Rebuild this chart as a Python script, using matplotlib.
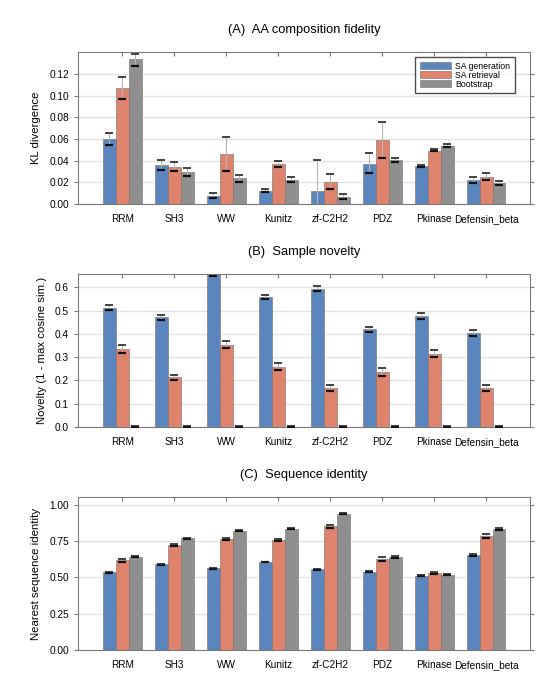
import matplotlib
matplotlib.use("Agg")
import matplotlib.pyplot as plt
import numpy as np

plt.rcParams['font.family'] = ['Liberation Sans', 'DejaVu Sans']

categories = ["RRM", "SH3", "WW", "Kunitz", "zf-C2H2", "PDZ", "Pkinase", "Defensin_beta"]
series = ["SA generation", "SA retrieval", "Bootstrap"]
colors = ["#5b86bd", "#e0836d", "#8f8f8f"]

# (A) KL divergence: means, lower and upper error bounds
kl_gen = [0.0597, 0.0356, 0.0076, 0.0119, 0.0122, 0.0371, 0.0350, 0.0222]
kl_gen_lo = [0.0545, 0.0314, 0.0058, 0.0107, -0.0160, 0.0283, 0.0338, 0.0192]
kl_gen_hi = [0.0654, 0.0405, 0.0103, 0.0143, 0.0405, 0.0469, 0.0362, 0.0253]
kl_ret = [0.1070, 0.0344, 0.0463, 0.0368, 0.0207, 0.0588, 0.0493, 0.0253]
kl_ret_lo = [0.0968, 0.0307, 0.0307, 0.0338, 0.0143, 0.0423, 0.0487, 0.0219]
kl_ret_hi = [0.1175, 0.0384, 0.0615, 0.0399, 0.0274, 0.0758, 0.0505, 0.0283]
kl_boot = [0.1336, 0.0295, 0.0237, 0.0225, 0.0067, 0.0405, 0.0539, 0.0195]
kl_boot_lo = [0.1279, 0.0262, 0.0207, 0.0204, 0.0049, 0.0384, 0.0530, 0.0174]
kl_boot_hi = [0.1388, 0.0329, 0.0271, 0.0247, 0.0091, 0.0429, 0.0551, 0.0216]

# (B) Sample novelty
nov_gen = [0.512, 0.471, 0.660, 0.557, 0.594, 0.419, 0.478, 0.402]
nov_gen_lo = [0.501, 0.461, 0.648, 0.548, 0.584, 0.409, 0.466, 0.389]
nov_gen_hi = [0.524, 0.482, 0.672, 0.565, 0.605, 0.428, 0.489, 0.415]
nov_ret = [0.334, 0.214, 0.354, 0.258, 0.168, 0.237, 0.314, 0.166]
nov_ret_lo = [0.316, 0.202, 0.339, 0.244, 0.155, 0.221, 0.301, 0.154]
nov_ret_hi = [0.354, 0.225, 0.370, 0.273, 0.181, 0.253, 0.330, 0.181]
nov_boot = [0.002, 0.002, 0.002, 0.002, 0.002, 0.002, 0.002, 0.002]
nov_boot_lo = [0.001, 0.001, 0.001, 0.001, 0.001, 0.001, 0.001, 0.001]
nov_boot_hi = [0.003, 0.003, 0.003, 0.003, 0.003, 0.003, 0.003, 0.003]

# (C) Nearest sequence identity
id_gen = [0.535, 0.590, 0.563, 0.606, 0.556, 0.540, 0.513, 0.654]
id_gen_lo = [0.531, 0.586, 0.559, 0.603, 0.551, 0.536, 0.510, 0.650]
id_gen_hi = [0.539, 0.594, 0.567, 0.609, 0.561, 0.544, 0.516, 0.658]
id_ret = [0.618, 0.723, 0.764, 0.757, 0.851, 0.625, 0.529, 0.785]
id_ret_lo = [0.609, 0.714, 0.756, 0.749, 0.842, 0.611, 0.524, 0.773]
id_ret_hi = [0.627, 0.732, 0.772, 0.765, 0.860, 0.639, 0.534, 0.797]
id_boot = [0.643, 0.769, 0.822, 0.834, 0.938, 0.638, 0.519, 0.833]
id_boot_lo = [0.639, 0.765, 0.818, 0.830, 0.935, 0.631, 0.516, 0.825]
id_boot_hi = [0.647, 0.773, 0.826, 0.838, 0.941, 0.645, 0.522, 0.841]

panels = [
    dict(title="(A)  AA composition fidelity", ylabel="KL divergence",
         data=[(kl_gen, kl_gen_lo, kl_gen_hi), (kl_ret, kl_ret_lo, kl_ret_hi), (kl_boot, kl_boot_lo, kl_boot_hi)],
         ylim=(0, 0.1405), yticks=[0.00, 0.02, 0.04, 0.06, 0.08, 0.10, 0.12], fmt="{:.2f}", legend=True),
    dict(title="(B)  Sample novelty", ylabel="Novelty (1 - max cosine sim.)",
         data=[(nov_gen, nov_gen_lo, nov_gen_hi), (nov_ret, nov_ret_lo, nov_ret_hi), (nov_boot, nov_boot_lo, nov_boot_hi)],
         ylim=(0, 0.657), yticks=[0.0, 0.1, 0.2, 0.3, 0.4, 0.5, 0.6], fmt="{:.1f}", legend=False),
    dict(title="(C)  Sequence identity", ylabel="Nearest sequence identity",
         data=[(id_gen, id_gen_lo, id_gen_hi), (id_ret, id_ret_lo, id_ret_hi), (id_boot, id_boot_lo, id_boot_hi)],
         ylim=(0, 1.053), yticks=[0.00, 0.25, 0.50, 0.75, 1.00], fmt="{:.2f}", legend=False),
]

fig = plt.figure(figsize=(5.54, 6.80), dpi=100)
positions = [(0.141, 0.700, 0.816, 0.2235), (0.141, 0.372, 0.816, 0.225), (0.141, 0.044, 0.816, 0.225)]

x = np.arange(len(categories))
width = 0.25
spine_color = "#7a7a7a"

for p, pos in zip(panels, positions):
    ax = fig.add_axes(pos)
    for i, ((vals, lo, hi), name, c) in enumerate(zip(p["data"], series, colors)):
        v = np.array(vals)
        xs = x + (i - 1) * width
        ax.bar(xs, v, width, color=c, edgecolor="#6f6f6f", linewidth=0.4, label=name, zorder=2)
        err = np.vstack([v - np.array(lo), np.array(hi) - v])
        ax.errorbar(xs, v, yerr=err, fmt="none", ecolor="#b5b5b5", elinewidth=0.8,
                    capsize=0, zorder=3)
        ax.plot(xs, lo, linestyle="none", marker="_", markersize=6, markeredgewidth=1.6,
                color="#111111", zorder=4, clip_on=True)
        ax.plot(xs, hi, linestyle="none", marker="_", markersize=6, markeredgewidth=1.2,
                color="#222222", zorder=4, clip_on=True)
    ax.set_xlim(-0.85, len(categories) - 0.15)
    ax.set_ylim(*p["ylim"])
    ax.set_yticks(p["yticks"])
    ax.set_yticklabels([p["fmt"].format(t) for t in p["yticks"]], fontsize=7.3)
    ax.set_xticks(x)
    ax.set_xticklabels(categories, fontsize=7.2)
    ax.yaxis.grid(True, color="#e3e3e3", linewidth=1.0, zorder=0)
    ax.set_axisbelow(True)
    ax.tick_params(axis="y", direction="out", length=3, color=spine_color, right=True, left=True)
    ax.tick_params(axis="x", direction="in", length=3, color=spine_color, top=True, bottom=False, pad=7)
    for s in ax.spines.values():
        s.set_color(spine_color)
        s.set_linewidth(0.8)
    ax.set_title(p["title"], fontsize=9.3, pad=14)
    ax.set_ylabel(p["ylabel"], fontsize=8.2, labelpad=6)
    if p["legend"]:
        leg = ax.legend(loc="upper right", fontsize=6.3, frameon=True, fancybox=False,
                        edgecolor="#222222", handlelength=3.6, handleheight=0.95,
                        labelspacing=0.0, borderpad=0.5, handletextpad=0.5,
                        borderaxespad=0.0, bbox_to_anchor=(0.966, 0.965))
        leg.get_frame().set_linewidth(1.0)

fig.savefig("out.png", dpi=100)
